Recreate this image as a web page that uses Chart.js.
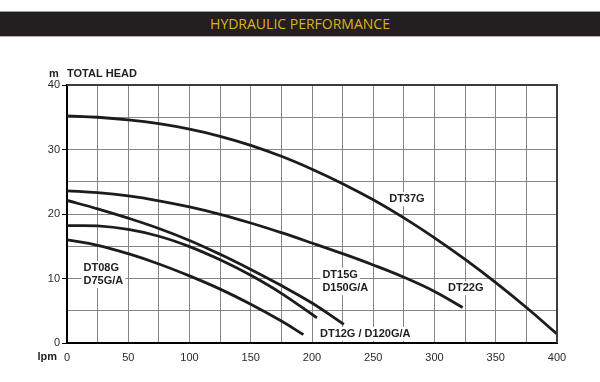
<!DOCTYPE html>
<html><head><meta charset="utf-8">
<script src="https://cdn.jsdelivr.net/npm/chart.js@4/dist/chart.umd.min.js"></script>
<style>
html,body{margin:0;padding:0;background:#fff;}
#wrap{position:relative;width:600px;height:382px;overflow:hidden;background:#fff;}
#band{position:absolute;left:0;top:11px;width:600px;height:24px;background:#231f20;border-top:1px solid #9d9d9d;border-bottom:1px solid #b0b0b0;color:#d9b51c;font-family:"Open Sans",sans-serif;font-size:14px;line-height:24px;text-align:center;box-sizing:content-box;}
#c{position:absolute;left:0;top:0;}
</style></head>
<body>
<div id="wrap">
<canvas id="c" width="600" height="382"></canvas>
<div id="band">HYDRAULIC PERFORMANCE</div>
</div>
<script>
// ---- data ----
const dt37gFlow = [0,25,50,75,100,125,150,175,200,225,250,275,300,325,350,375,400];
const dt37gHead = [35.2,35.0,34.6,34.0,33.15,32.05,30.65,28.95,26.95,24.7,22.2,19.4,16.3,12.95,9.35,5.5,1.4];
const dt22gFlow = [0,25,50,75,100,125,150,175,200,225,250,275,300,323];
const dt22gHead = [23.6,23.3,22.8,22.05,21.1,19.95,18.6,17.1,15.5,13.85,12.1,10.2,8.0,5.5];
const dt15gFlow = [0,25,50,75,100,125,150,175,200,226];
const dt15gHead = [22.1,20.8,19.35,17.75,15.9,13.75,11.4,8.9,6.2,2.9];
const dt12gFlow = [0,25,50,75,100,125,150,175,204];
const dt12gHead = [18.2,18.15,17.6,16.55,14.95,12.9,10.5,7.7,3.9];
const dt08gFlow = [0,25,50,75,100,125,150,175,193];
const dt08gHead = [16.0,15.15,13.85,12.25,10.4,8.35,6.0,3.4,1.3];

const xLabelTicks = [0,50,100,150,200,250,300,350,400];
const yLabelTicks = [0,10,20,30,40];

const curveLabels = ['DT37G','DT22G','DT15G','D150G/A','DT12G / D120G/A','DT08G','D75G/A'];
const curveLabelFlow = [277.5,325.5,208.5,208.5,206.5,13.5,13.5];
const curveLabelHead = [22.3,8.5,10.6,8.5,1.4,11.6,9.6];
const curveLabelAlign = ['center','center','left','left','left','left','left'];

const toPts = (f,h) => f.map((v,i)=>({x:v,y:h[i]}));
const series = [
  toPts(dt37gFlow,dt37gHead),
  toPts(dt22gFlow,dt22gHead),
  toPts(dt15gFlow,dt15gHead),
  toPts(dt12gFlow,dt12gHead),
  toPts(dt08gFlow,dt08gHead)
];

const FONT_B = 'bold 11px "Liberation Sans", Arial, sans-serif';

const decor = {
  id:'decor',
  afterDraw(chart){
    const {ctx, chartArea:a, scales:{x,y}} = chart;
    ctx.save();
    // top & right frame
    ctx.strokeStyle='#3c3c3c'; ctx.lineWidth=2;
    ctx.beginPath(); ctx.moveTo(a.left,a.top); ctx.lineTo(a.right,a.top); ctx.lineTo(a.right,a.bottom); ctx.stroke();
    // curve labels
    ctx.font = FONT_B; ctx.textBaseline='middle';
    curveLabels.forEach((t,i)=>{
      const px = x.getPixelForValue(curveLabelFlow[i]);
      const py = y.getPixelForValue(curveLabelHead[i]);
      const w = ctx.measureText(t).width;
      const left = curveLabelAlign[i]==='center' ? px - w/2 : px;
      ctx.fillStyle='#fff';
      ctx.fillRect(left-2, py-7, w+4, 14);
    });
    curveLabels.forEach((t,i)=>{
      const px = x.getPixelForValue(curveLabelFlow[i]);
      const py = y.getPixelForValue(curveLabelHead[i]);
      ctx.fillStyle='#1e1e1e';
      ctx.textAlign = curveLabelAlign[i];
      ctx.fillText(t, px, py);
    });
    // axis titles
    ctx.fillStyle='#1e1e1e';
    ctx.textAlign='center';
    ctx.fillText('m', a.left-13, a.top-11);
    ctx.textAlign='left';
    ctx.fillText('TOTAL HEAD', a.left, a.top-11);
    ctx.textAlign='right';
    ctx.fillText('lpm', a.left-10, a.bottom+14);
    ctx.restore();
  }
};

new Chart(document.getElementById('c'), {
  type:'scatter',
  data:{datasets: series.map(s=>({
    data:s, showLine:true, borderColor:'#1c1c1c', borderWidth:2.8,
    pointRadius:0, pointHoverRadius:0, fill:false, tension:0.4,
    borderCapStyle:'butt', borderJoinStyle:'round'
  }))},
  options:{
    responsive:false, animation:false, devicePixelRatio:1,
    layout:{padding:{left:0,right:43,top:85,bottom:14}},
    plugins:{legend:{display:false}, tooltip:{enabled:false}},
    scales:{
      x:{
        type:'linear', min:0, max:400,
        afterFit(s){ s.height = 25; },
        border:{color:'#000', width:2},
        grid:{color:'#858585', lineWidth:1, drawTicks:false},
        ticks:{
          stepSize:25, autoSkip:false, maxRotation:0, padding:8,
          color:'#2a2a2a', font:{family:'"Liberation Sans", Arial, sans-serif', size:11},
          callback:(v)=> xLabelTicks.includes(v) ? String(v) : ''
        }
      },
      y:{
        type:'linear', min:0, max:40,
        afterFit(s){ s.width = 67; },
        border:{color:'#000', width:2},
        grid:{color:'#858585', lineWidth:1, drawTicks:true, tickLength:5,
          tickColor:(ctx)=> (ctx.tick && yLabelTicks.includes(ctx.tick.value)) ? '#000' : 'rgba(0,0,0,0)'},
        ticks:{
          stepSize:5, autoSkip:false, padding:2,
          color:'#2a2a2a', font:{family:'"Liberation Sans", Arial, sans-serif', size:11},
          callback:(v)=> yLabelTicks.includes(v) ? String(v) : ''
        }
      }
    }
  },
  plugins:[decor]
});
</script>
</body></html>
